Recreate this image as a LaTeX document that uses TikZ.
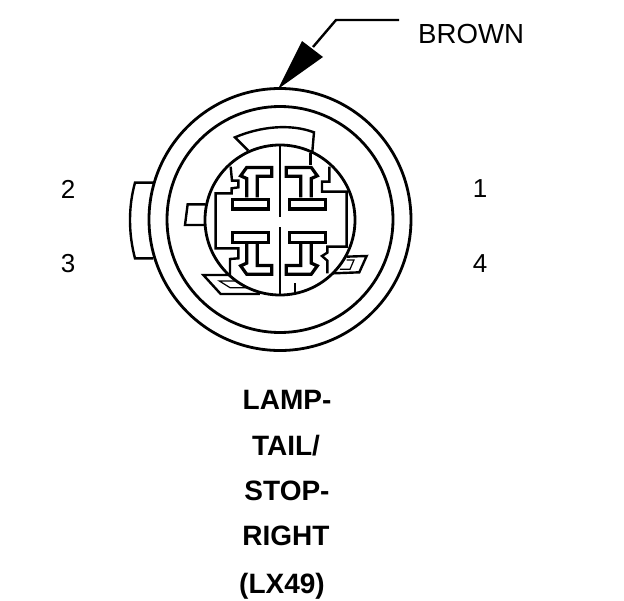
\documentclass[tikz,border=0pt]{standalone}
\usepackage{fontspec}
\setmainfont{Liberation Sans}
\usetikzlibrary{positioning}
\begin{document}
\begin{tikzpicture}[x=1pt,y=-1pt,
ring/.style = {draw=black, line width=2.8pt},
outline/.style = {draw=black, line width=2.4pt, line join=miter},
terminal/.style = {draw=black, line width=3.2pt, line join=miter},
thin outline/.style = {draw=black, line width=1.2pt},
pinno/.style = {font=\fontsize{26}{26}\selectfont, inner sep=0pt},
colour label/.style = {font=\fontsize{27.6}{27.6}\selectfont, inner sep=0pt},
caption/.style = {font=\bfseries\fontsize{28}{28}\selectfont, inner sep=0pt}
]
\useasboundingbox (0,0) rectangle (624,600);
% Rings of the connector
\draw[ring] (280,219.5) circle[radius=131];
\draw[ring] (280,219.5) circle[radius=113];
\draw[ring] (280,220) circle[radius=75];
% Center rib
\draw[outline] (280,145) -- (280,217);
\draw[outline] (280,227) -- (280,295);
% Housing details, in the coordinates of the enlarged crop
\begin{scope}[shift={(120,110)},x=0.3333pt,y=-0.3333pt]
% Key on top
\draw[outline] (385,122) -- (345,82) .. controls (420,50) and (510,40) .. (582,67) -- (577,125);
% Outer and inner tab on the left
\draw[outline] (100,218) -- (45,218) .. controls (25,290) and (25,370) .. (45,445) -- (100,445);
\draw[outline] (257,283) -- (203,283) -- (195,345) -- (257,345);
% Frame round the terminals
\draw[outline] (332,170) -- (336,212) -- (355,212) -- (355,232) -- (335,235) -- (335,250) -- (287,250)
  -- (287,415) -- (355,415) -- (355,445) -- (330,447) -- (330,495);
\draw[outline] (572,130) -- (572,165);
\draw[outline] (628,170) -- (628,215) -- (606,215) -- (606,245) -- (680,245) -- (680,410) -- (622,410)
  -- (622,428) -- (606,438) -- (622,452) -- (622,490);
\draw[outline] (525,520) -- (525,550);
% Lower tabs
\draw[outline] (680,440) -- (740,438) -- (718,487) -- (640,490);
\draw[thin outline] (680,450) -- (702,450) -- (690,478) -- (660,478);
\draw[outline] (330,495) -- (250,495) -- (302,552) -- (420,552);
\draw[thin outline] (345,513) -- (298,513) -- (330,533) -- (385,533);
% Terminals
\foreach \sx/\sy in {1/1,-1/1,1/-1,-1/-1}
{
	\begin{scope}[shift={(477,332.5)},xscale=\sx,yscale=\sy]
	\draw[terminal] (-139,-64.5) rectangle (-32,-35.5);
	\draw[terminal] (-97,-70) -- (-97,-127) -- (-115,-135) -- (-97,-160) -- (-22,-160)
	  -- (-22,-134) -- (-65,-134) -- (-65,-70);
	\end{scope}
}
\end{scope}
% Labels
\node[pinno] (P-2) at (68,189) {2};
\node[pinno] (P-3) at (68,264) {3};
\node[pinno] (P-1) at (480,189) {1};
\node[pinno] (P-4) at (480,264) {4};
\node[colour label, anchor=west] (brown) at (418,34) {BROWN};
\node[caption] (lamp) at (287,400) {LAMP-};
\node[caption] (tail) at (286,446) {TAIL/};
\node[caption] (stop) at (287,491) {STOP-};
\node[caption] (right) at (286,536) {RIGHT};
\node[caption] (lx) at (282,586) {(LX49)};
% Leader to the ring
\coordinate (tip) at (278,89);
\coordinate (bend) at (336,20);
\coordinate (end) at (399,20);
\fill[black] (tip) -- (302,41) -- (323,57) -- cycle;
\draw[outline] (313,47) -- (bend) -- (end);
\end{tikzpicture}
\end{document}
